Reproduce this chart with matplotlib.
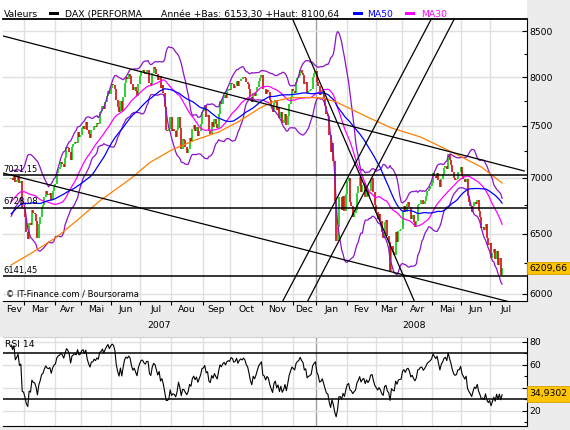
import numpy as np
import pandas as pd
import matplotlib
matplotlib.use("Agg")
import matplotlib.pyplot as plt
from matplotlib.patches import Rectangle
from matplotlib.ticker import FixedLocator, NullFormatter
from matplotlib.transforms import blended_transform_factory

plt.rcParams['font.family'] = ['DejaVu Sans']

# ---------------- data ----------------
# DAX daily closes. Warm-up (1 Dec 2006 - 14 Feb 2007) only feeds MA / Bollinger / RSI
close_warmup = [6310, 6298, 6352, 6381, 6405, 6322, 6368, 6402, 6441, 6518, 6556, 6561, 6540,
                6557, 6530, 6502, 6570, 6611, 6597,
                6681, 6691, 6622, 6593, 6601, 6544, 6532, 6603, 6648, 6690, 6718, 6711, 6702,
                6688, 6672, 6713, 6778, 6761, 6790, 6782, 6775, 6809,
                6861, 6918, 6903, 6922, 6941, 6934, 6959, 6950, 6968, 6985]
close_2007_02 = [6995, 6978, 7022, 6960, 6982, 7015, 6955, 6968, 6727, 6716]
close_2007_03 = [6640, 6513, 6449, 6591, 6572, 6710, 6676, 6668, 6605, 6458, 6580, 6640, 6730,
                 6752, 6824, 6880, 6853, 6845, 6862, 6795, 6875, 6917]
close_2007_04 = [6938, 7045, 7085, 7099, 7144, 7128, 7100, 7190, 7292, 7278, 7245, 7162, 7292,
                 7317, 7339, 7329, 7440, 7393, 7408]
close_2007_05 = [7479, 7501, 7470, 7539, 7460, 7415, 7380, 7458, 7459, 7502, 7490, 7530, 7520,
                 7634, 7650, 7700, 7670, 7740, 7800, 7850, 7820, 7883]
close_2007_06 = [7924, 7916, 7880, 7764, 7694, 7640, 7748, 7650, 7790, 7936, 8000, 7985, 8036,
                 8013, 7925, 7866, 7900, 7849, 7800, 7930, 8007]
close_2007_07 = [8069, 8074, 8044, 8030, 8076, 8075, 7943, 7917, 8040, 8105, 8091, 8032, 7966,
                 8016, 7883, 7914, 7832, 7686, 7453, 7451, 7467, 7584]
close_2007_08 = [7446, 7469, 7450, 7393, 7457, 7590, 7476, 7270, 7369, 7357, 7287, 7230, 7274,
                 7380, 7342, 7466, 7512, 7447, 7490, 7394, 7452, 7516, 7638]
close_2007_09 = [7650, 7700, 7588, 7610, 7447, 7420, 7536, 7490, 7570, 7518, 7477, 7616, 7748,
                 7718, 7782, 7815, 7780, 7850, 7870, 7862]
close_2007_10 = [7940, 7930, 7890, 7905, 7960, 7910, 7960, 7985, 7975, 8005, 7990, 7950, 7930,
                 7870, 7790, 7740, 7830, 7800, 7840, 7900, 7960, 7990, 8019]
close_2007_11 = [7880, 7870, 7820, 7860, 7840, 7760, 7700, 7640, 7730, 7760, 7660, 7690, 7580,
                 7640, 7530, 7560, 7620, 7510, 7600, 7720, 7790, 7870]
close_2007_12 = [7850, 7830, 7950, 7990, 8010, 8076, 8040, 8020, 7930, 7950, 7830, 7850, 7860,
                 7880, 8000, 8040, 8067]
close_2008_01 = [7950, 7910, 7810, 7820, 7850, 7780, 7700, 7620, 7600, 7410, 7240, 7330, 7160,
                 6790, 6440, 6560, 6820, 6820, 6710, 6830, 6700, 6850]
close_2008_02 = [6970, 7000, 6780, 6740, 6640, 6680, 6710, 6860, 6920, 7010, 6870, 6930, 6950,
                 6820, 6900, 6830, 6880, 6990, 7000, 6870, 6748]
close_2008_03 = [6690, 6630, 6670, 6610, 6510, 6460, 6600, 6620, 6480, 6430, 6182, 6390, 6340,
                 6320, 6510, 6430, 6520, 6530, 6535]
close_2008_04 = [6700, 6740, 6690, 6760, 6780, 6730, 6630, 6660, 6600, 6560, 6610, 6750, 6760,
                 6800, 6800, 6760, 6790, 6830, 6880, 6900, 6920, 6949]
close_2008_05 = [7040, 7020, 7000, 7040, 6980, 6910, 6990, 7030, 7090, 7110, 7080, 7225, 7170,
                 7120, 7050, 7000, 6980, 6990, 7050, 7050, 7096]
close_2008_06 = [7020, 6990, 6960, 6990, 6830, 6780, 6740, 6690, 6740, 6780, 6760, 6800, 6700,
                 6640, 6550, 6560, 6530, 6580, 6460, 6400, 6418]
close_2008_07 = [6290, 6330, 6370, 6280, 6350, 6230, 6290, 6150, 6209.66]

# orange long moving average
ma200_dates = ["2007-02-15", "2007-03-09", "2007-04-03", "2007-04-26", "2007-05-21", "2007-06-21",
               "2007-07-10", "2007-08-01", "2007-08-24", "2007-09-18", "2007-10-08", "2007-10-30",
               "2007-11-12", "2007-11-28", "2007-12-14", "2008-01-08", "2008-01-22", "2008-02-07",
               "2008-02-25", "2008-03-18", "2008-04-18", "2008-05-23", "2008-06-20", "2008-07-11"]
ma200_vals = [6234, 6343, 6470, 6618, 6787, 6997, 7140, 7263, 7359, 7438, 7538, 7679,
              7741, 7782, 7787, 7782, 7741, 7659, 7578, 7478, 7389, 7234, 7100, 6951]

levels = [7021.15, 6728.08, 6141.45]
level_labels = ["7021,15", "6728,08", "6141,45"]

# hand-drawn trend lines: start date, start value, end date, end value
trend_lines = [("2007-02-07", 8450, "2008-08-04", 7063),
               ("2007-02-07", 7044, "2008-07-29", 5918),
               ("2007-11-30", 8660, "2008-04-14", 5930),
               ("2007-11-21", 5935, "2008-04-30", 8648),
               ("2007-12-17", 5934, "2008-05-23", 8629)]

month_names = ["Fev", "Mar", "Avr", "Mai", "Jun", "Jul", "Aou", "Sep", "Oct", "Nov", "Dec",
               "Jan", "Fev", "Mar", "Avr", "Mai", "Jun", "Jul"]
last_close_label = "6209,66"
last_rsi_label = "34,9302"

# ---------------- trading calendar ----------------
holidays = pd.to_datetime(["2006-12-25", "2006-12-26", "2007-01-01", "2007-04-06", "2007-04-09",
                           "2007-05-01", "2007-12-24", "2007-12-25", "2007-12-26", "2007-12-31",
                           "2008-01-01", "2008-03-21", "2008-03-24", "2008-05-01"])
days = pd.bdate_range("2006-12-01", "2008-08-29")
days = days[~days.isin(holidays)]
origin = days.get_loc(pd.Timestamp("2007-03-01"))


def pos(d):
    return days.get_loc(pd.Timestamp(d)) - origin


close = np.array(close_warmup + close_2007_02 + close_2007_03 + close_2007_04 + close_2007_05
                 + close_2007_06 + close_2007_07 + close_2007_08 + close_2007_09 + close_2007_10
                 + close_2007_11 + close_2007_12 + close_2008_01 + close_2008_02 + close_2008_03
                 + close_2008_04 + close_2008_05 + close_2008_06 + close_2008_07, dtype=float)
n_warm = len(close_warmup)
xs = np.arange(len(close)) - origin
assert days[n_warm] == pd.Timestamp("2007-02-15")
assert days[len(close) - 1] == pd.Timestamp("2008-07-11")

s = pd.Series(close)
ma30 = s.rolling(30).mean().values
ma50 = s.rolling(50).mean().values
mid = s.rolling(20).mean()
sd = s.rolling(20).std(ddof=0)
bb_up = (mid + 2 * sd).values
bb_lo = (mid - 2 * sd).values
diff = s.diff()
gain = diff.clip(lower=0).ewm(alpha=1 / 14, adjust=False).mean()
loss = (-diff.clip(upper=0)).ewm(alpha=1 / 14, adjust=False).mean()
rsi = (100 - 100 / (1 + gain / loss)).values

# ---------------- figure ----------------
W, H = 570, 430


def fx(px):
    return px / W


def fy(py):
    return 1 - py / H


fig = plt.figure(figsize=(W / 100, H / 100), dpi=100, facecolor='#ececec')
fig.add_artist(Rectangle((0, fy(300.5)), fx(527), fy(0) - fy(300.5), transform=fig.transFigure,
                         fc='white', ec='none', zorder=-5))
fig.add_artist(Rectangle((0, fy(425.5)), fx(527), fy(337) - fy(425.5), transform=fig.transFigure,
                         fc='white', ec='none', zorder=-5))

ax = fig.add_axes([fx(3), fy(300.5), fx(524), fy(19) - fy(300.5)])
rx = fig.add_axes([fx(3), fy(425.5), fx(524), fy(337) - fy(425.5)])

xlim = (-15.9, 363.0)
grid_c = '#e0e0e0'

# month boundaries and label centres
month_starts = pd.date_range("2007-03-01", "2008-08-01", freq="MS")
bounds = []
for m in month_starts:
    first = days[days >= m][0]
    bounds.append(pos(first) - 0.5)
edges = [xlim[0]] + bounds
centres = [(a + b) / 2 for a, b in zip(edges[:-1], edges[1:])]
bounds = bounds[:-1]
jan08 = pos("2008-01-02") - 0.5

for a in (ax, rx):
    a.set_xlim(*xlim)
    a.set_facecolor('white')
    for b in bounds:
        a.axvline(b, color='#a0a0a0' if b == jan08 else grid_c, lw=1.0, zorder=0.5)
    a.spines['left'].set_visible(False)
    a.yaxis.tick_right()

# ---- price panel ----
ax.set_yscale('log')
ax.set_ylim(5947, 8642)
major_y = [6000, 6500, 7000, 7500, 8000, 8500]
for v in major_y:
    ax.axhline(v, color=grid_c, lw=1.0, zorder=0.5)
ax.yaxis.set_major_locator(FixedLocator(major_y))
ax.set_yticklabels([str(v) for v in major_y])
ax.yaxis.set_minor_locator(FixedLocator([6250, 6750, 7250, 7750, 8250]))
ax.yaxis.set_minor_formatter(NullFormatter())
ax.tick_params(axis='y', which='major', direction='in', length=3.5, width=0.8, labelsize=6.7, pad=1.5)
ax.tick_params(axis='y', which='minor', direction='in', length=2, width=0.8)

ax.set_xticks(bounds)
ax.set_xticklabels([])
ax.set_xticks(centres, minor=True)
ax.set_xticklabels(month_names, minor=True)
ax.tick_params(axis='x', which='major', direction='out', length=3, width=0.8)
ax.tick_params(axis='x', which='minor', length=0, labelsize=6.7, pad=3.5)
ax.spines['top'].set_linewidth(1.3)

xd = xs[n_warm:]
c = close[n_warm:]
o = close[n_warm - 1:-1]
up = c >= o
ax.vlines(xd[up], o[up], c[up], color='#00c800', lw=1.15, zorder=2)
ax.vlines(xd[~up], o[~up], c[~up], color='#d00000', lw=1.15, zorder=2)

ax.plot(xd, bb_up[n_warm:], color='#8c14c8', lw=0.9, zorder=3)
ax.plot(xd, bb_lo[n_warm:], color='#8c14c8', lw=0.9, zorder=3)
ax.plot(xd, ma30[n_warm:], color='#ff00ff', lw=0.9, zorder=3)
ax.plot(xd, ma50[n_warm:], color='#0000ff', lw=0.9, zorder=3)
ax.plot([pos(d) for d in ma200_dates], ma200_vals, color='#ff7f00', lw=0.9, zorder=3)

for lv, lab in zip(levels, level_labels):
    ax.axhline(lv, color='black', lw=1.1, zorder=4)
    ax.annotate(lab, xy=(0, lv), xycoords=('axes fraction', 'data'), xytext=(0.5, 2.2),
                textcoords='offset points', fontsize=6, va='baseline', ha='left', zorder=5)

for d0, v0, d1, v1 in trend_lines:
    ax.plot([pos(d0), pos(d1)], [v0, v1], color='black', lw=0.9, zorder=4)

ax.text(0.006, 0.008, "\u00a9 IT-Finance.com / Boursorama", transform=ax.transAxes, fontsize=6,
        va='bottom', ha='left', zorder=6)

yr = blended_transform_factory(ax.transData, fig.transFigure)
ax.text((xlim[0] + jan08) / 2, fy(325.5), "2007", transform=yr, fontsize=6.7, ha='center', va='center')
ax.text(281, fy(325.5), "2008", transform=yr, fontsize=6.7, ha='center', va='center')

# ---- RSI panel ----
rx.set_ylim(7.1, 84.1)
for v in [20, 40, 60, 80]:
    rx.axhline(v, color=grid_c, lw=1.0, zorder=0.5)
rx.axhline(70, color='black', lw=1.1, zorder=3)
rx.axhline(30, color='black', lw=1.1, zorder=3)
rx.plot(xd, rsi[n_warm:], color='black', lw=0.8, zorder=4)
# the "40" label sits under the last-value box, as in the original
rx.yaxis.set_major_locator(FixedLocator([20, 40, 60, 80]))
rx.set_yticklabels(["20", "", "60", "80"])
rx.yaxis.set_minor_locator(FixedLocator([10, 30, 50, 70]))
rx.yaxis.set_minor_formatter(NullFormatter())
rx.tick_params(axis='y', which='major', direction='in', length=3.5, width=0.8, labelsize=6.7, pad=1.5)
rx.tick_params(axis='y', which='minor', direction='in', length=2, width=0.8)
rx.tick_params(axis='x', which='both', bottom=False, labelbottom=False)
rx.spines['top'].set_color('#d0d0d0')
rx.text(0.003, 0.97, "RSI 14", transform=rx.transAxes, fontsize=6.7, va='top', ha='left')

# ---- header ----
fig.text(fx(4), fy(16.7), "Valeurs", fontsize=6.7, va='baseline')
fig.add_artist(Rectangle((fx(49), fy(15)), fx(10), fy(12) - fy(15), transform=fig.transFigure,
                         fc='black', ec='none'))
fig.text(fx(65), fy(16.7), "DAX (PERFORMA", fontsize=6.7, va='baseline')
fig.text(fx(161), fy(16.7), "Année +Bas: 6153,30 +Haut: 8100,64", fontsize=6.7, va='baseline')
fig.add_artist(Rectangle((fx(353), fy(15)), fx(10), fy(12) - fy(15), transform=fig.transFigure,
                         fc='#0000ff', ec='none'))
fig.text(fx(367), fy(16.7), "MA50", fontsize=6.7, va='baseline', color='#0000ff')
fig.add_artist(Rectangle((fx(405), fy(15)), fx(10), fy(12) - fy(15), transform=fig.transFigure,
                         fc='#ff00ff', ec='none'))
fig.text(fx(421), fy(16.7), "MA30", fontsize=6.7, va='baseline', color='#ff00ff')

# ---- value boxes on the right ----
fig.add_artist(Rectangle((fx(527), fy(274)), fx(43), fy(262) - fy(274), transform=fig.transFigure,
                         fc='#ffc400', ec='#d9a000', lw=0.6, zorder=10))
fig.text(fx(548.5), fy(268), last_close_label, fontsize=6.7, ha='center', va='center', zorder=11)
fig.add_artist(Rectangle((fx(527), fy(401.5)), fx(43), fy(385.5) - fy(401.5), transform=fig.transFigure,
                         fc='#ffc400', ec='#d9a000', lw=0.6, zorder=10))
fig.text(fx(548.5), fy(393.5), last_rsi_label, fontsize=6.7, ha='center', va='center', zorder=11)

fig.savefig("out.png", dpi=100, facecolor=fig.get_facecolor())
